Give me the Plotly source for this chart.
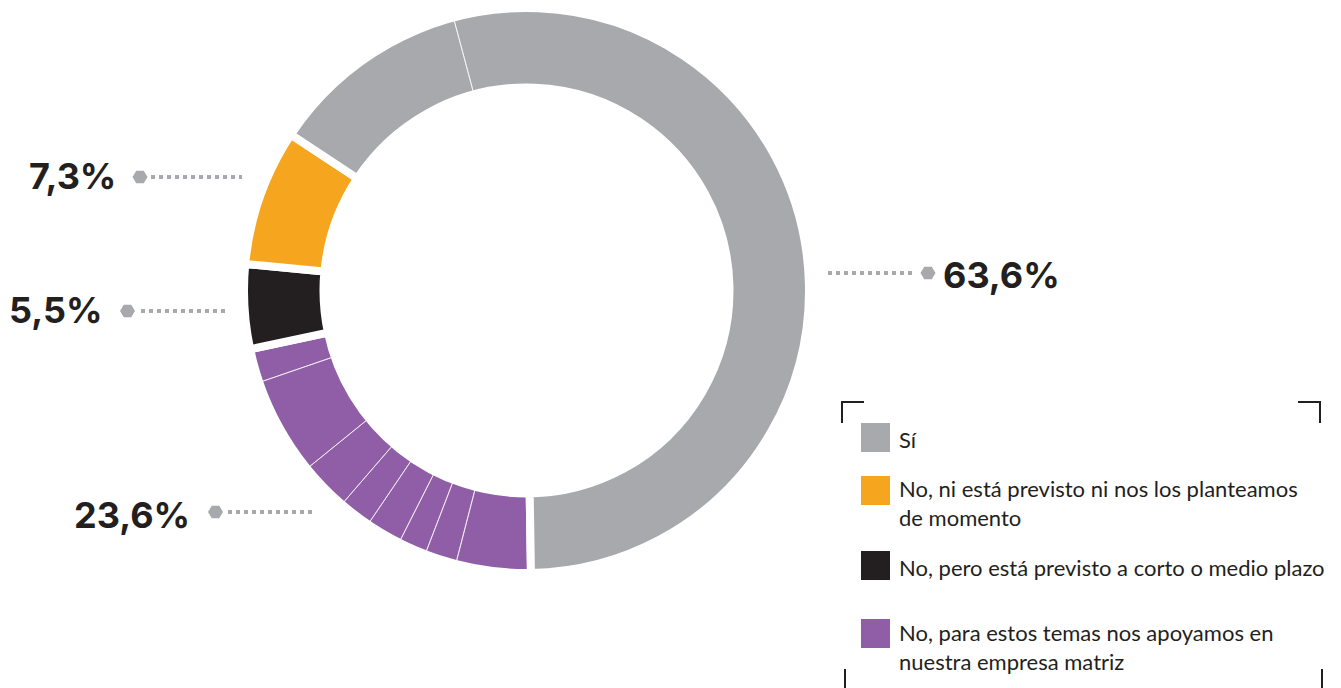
import plotly.graph_objects as go

W, H = 1341, 688
OFF = 8  # margen del body de la página

# categorías (orden del dibujo, en sentido horario desde las 6)
groups = [
    "No, para estos temas nos apoyamos en nuestra empresa matriz",
    "No, pero está previsto a corto o medio plazo",
    "No, ni está previsto ni nos los planteamos de momento",
    "Sí",
]
group_colors = ["#8f5ea6", "#231f20", "#f6a51e", "#a7a9ac"]
group_pct = [23.6, 5.5, 7.3, 63.6]

# tramos del anillo tal como se ven (en % de la circunferencia)
segment_group = [0, 0, 0, 0, 0, 0, 0, 0, 1, 2, 3, 3]
segment_share = [4.28, 1.81, 1.61, 2.03, 1.86, 2.81, 5.58, 1.94, 4.83, 7.81, 11.53, 53.92]

# leyenda (orden de arriba abajo)
legend_order = [3, 2, 1, 0]
legend_text = [
    "Sí",
    "No, ni está previsto ni nos los planteamos<br>de momento",
    "No, pero está previsto a corto o medio plazo",
    "No, para estos temas nos apoyamos en<br>nuestra empresa matriz",
]

DARK = "#231f20"
DOT = "#a7a9ac"


def px(x, y):
    return (x - OFF) / W, 1 - (y - OFF) / H


group_values = [0.0] * len(groups)
for g, v in zip(segment_group, segment_share):
    group_values[g] += v

# geometría del anillo (el borde blanco se come la mitad de su grosor)
GAP = 8
cx, cy = 526.5, 290.5
R = 278.5 + GAP / 2
hole = (207 - GAP / 2) / R
dom_x = [(cx - OFF - R) / W, (cx - OFF + R) / W]
dom_y = [max(0, 1 - (cy - OFF + R) / H), min(1, 1 - (cy - OFF - R) / H)]
start = 179.1

fig = go.Figure()
fig.add_trace(
    go.Pie(
        labels=groups,
        values=group_values,
        marker=dict(colors=group_colors, line=dict(color="white", width=GAP)),
        hole=hole,
        domain=dict(x=dom_x, y=dom_y),
        rotation=start,
        direction="clockwise",
        sort=False,
        textinfo="none",
        hoverinfo="skip",
        showlegend=False,
    )
)
fig.add_trace(
    go.Pie(
        labels=[f"s{i}" for i in range(len(segment_share))],
        values=segment_share,
        marker=dict(colors=["rgba(0,0,0,0)"] * len(segment_share),
                    line=dict(color="rgba(255,255,255,0.85)", width=0.8)),
        hole=hole,
        domain=dict(x=dom_x, y=dom_y),
        rotation=start,
        direction="clockwise",
        sort=False,
        textinfo="none",
        hoverinfo="skip",
        showlegend=False,
    )
)

shapes = []
annotations = []

# etiquetas con línea de puntos y hexágono
# (x0 puntos, x1 puntos, y, x hexágono, x texto, anclaje, y texto)
leaders = {
    3: (828, 916, 273, 928, 941, "left", 275),
    2: (151, 242, 177, 140, 118, "right", 176),
    1: (141, 229, 311, 127.5, 105, "right", 310),
    0: (228, 316, 512, 215.5, 192, "right", 515),
}
for g, (x0, x1, y, hx, tx, anchor, ty) in leaders.items():
    a, b = px(x0, y)
    c, _ = px(x1, y)
    shapes.append(
        dict(type="line", xref="paper", yref="paper", x0=a, x1=c, y0=b, y1=b,
             line=dict(color=DOT, width=4, dash="4px,4px"))
    )
    pts = [(hx - 7.5, y), (hx - 3.75, y - 6.3), (hx + 3.75, y - 6.3),
           (hx + 7.5, y), (hx + 3.75, y + 6.3), (hx - 3.75, y + 6.3)]
    path = "M" + " L".join(f"{px(x, yy)[0]:.5f},{px(x, yy)[1]:.5f}" for x, yy in pts) + " Z"
    shapes.append(dict(type="path", xref="paper", yref="paper", path=path,
                       fillcolor=DOT, line=dict(width=0)))
    lx, ly = px(tx, ty)
    annotations.append(
        dict(x=lx, y=ly, xref="paper", yref="paper", xanchor=anchor, yanchor="middle",
             text="<b>" + f"{group_pct[g]:.1f}".replace(".", ",") + "%</b>", showarrow=False,
             font=dict(family="Inter", size=36, color=DARK))
    )

# leyenda manual con esquinas
corners = [
    [(842, 423), (842, 402), (864, 402)],
    [(1298, 402), (1320, 402), (1320, 423)],
    [(845, 669), (845, 700)],
    [(1322, 669), (1322, 700)],
]
for c in corners:
    path = "M" + " L".join(f"{px(x, y)[0]:.5f},{px(x, y)[1]:.5f}" for x, y in c)
    shapes.append(dict(type="path", xref="paper", yref="paper", path=path,
                       line=dict(color=DARK, width=2)))

sq_top = [423, 476, 551, 619]
txt_mid = [439, 503, 567, 647]
for k, g in enumerate(legend_order):
    x0, y0 = px(861, sq_top[k])
    x1, y1 = px(890, sq_top[k] + 29)
    shapes.append(dict(type="rect", xref="paper", yref="paper", x0=x0, x1=x1, y0=y1, y1=y0,
                       fillcolor=group_colors[g], line=dict(width=0)))
    tx, ty = px(897, txt_mid[k])
    annotations.append(
        dict(x=tx, y=ty, xref="paper", yref="paper", xanchor="left", yanchor="middle",
             align="left", text=legend_text[k], showarrow=False,
             font=dict(family="Lato", size=22, color=DARK))
    )

fig.update_layout(
    width=W,
    height=H,
    margin=dict(l=0, r=0, t=0, b=0),
    paper_bgcolor="white",
    plot_bgcolor="white",
    showlegend=False,
    shapes=shapes,
    annotations=annotations,
)

fig.write_html("out.html")
